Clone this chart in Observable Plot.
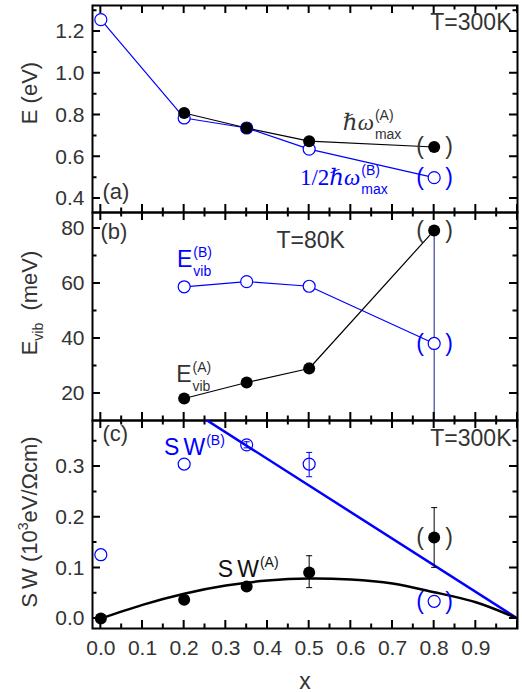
<!DOCTYPE html>
<html><head><meta charset="utf-8">
<script src="https://cdn.jsdelivr.net/npm/d3@7"></script>
<script src="https://cdn.jsdelivr.net/npm/@observablehq/plot@0.6"></script>
<style>
body{margin:0;background:#fff;}
#chart{position:relative;width:522px;height:692px;overflow:hidden;background:#fff;}
#chart svg{position:absolute;left:0;}
</style></head><body><div id="chart"></div>
<script>
// ---------- data ----------
const xs = [0, 0.2, 0.35, 0.5, 0.8];
const uncertain = [false, false, false, false, true];

// panel (a) E (eV), T=300K
const eA = [null, 0.81, 0.738, 0.675, 0.647];   // hbar omega_max (A)
const eB = [1.257, 0.786, 0.738, 0.637, 0.50];  // 1/2 hbar omega_max (B)

// panel (b) E_vib (meV), T=80K
const evA = [null, 18.2, 24.0, 29.1, 79.3];
const evAlo = [null, null, null, 28.0, 10.2];
const evAhi = [null, null, null, 31.0, 80.5];
const evB = [null, 58.8, 60.7, 59.0, 38.2];
const evBlo = [null, 57.3, null, null, null];
const evBhi = [null, 60.3, null, null, null];

// panel (c) SW (10^3 eV/Ohm cm), T=300K
const swA = [0.0, 0.037, 0.063, 0.091, 0.160];
const swAlo = [null, null, null, 0.061, 0.101];
const swAhi = [null, null, null, 0.124, 0.219];
const swB = [0.126, 0.305, 0.343, 0.305, 0.034];
const swBlo = [null, null, 0.337, 0.280, null];
const swBhi = [null, null, 0.349, 0.328, null];

// fitted curves in (c)
const fitAx = [0, 0.1, 0.2, 0.3, 0.4, 0.5, 0.6, 0.7, 0.8, 0.9, 1.0];
const fitAy = [0, 0.027, 0.049, 0.065, 0.075, 0.079, 0.077, 0.069, 0.052, 0.032, 0];
const fitBx = [0, 1.0];
const fitBy = [0.525, 0];

// ticks
const xMajor = [0, 0.1, 0.2, 0.3, 0.4, 0.5, 0.6, 0.7, 0.8, 0.9];
const xMinor = [0.05, 0.15, 0.25, 0.35, 0.45, 0.55, 0.65, 0.75, 0.85, 0.95];
const aMajor = [0.4, 0.6, 0.8, 1.0, 1.2], aMinor = [0.5, 0.7, 0.9, 1.1, 1.3];
const bMajor = [20, 40, 60, 80], bMinor = [30, 50, 70];
const cMajor = [0, 0.1, 0.2, 0.3], cMinor = [0.05, 0.15, 0.25, 0.35];

// ---------- helpers ----------
const FONT = "Liberation Sans, Arial, Helvetica, sans-serif";
const SERIF = "Liberation Serif, DejaVu Serif, Times New Roman, serif";
const TXT = "#333";
const BLUE = "#0000ff";
const X_DOMAIN = [-0.02, 1.0];
const ML = 92, MR = 5, W = 522, H = 692;
const rows = (ys, lo, hi) => xs.map((x, i) => ({x, y: ys[i], lo: lo ? lo[i] : null, hi: hi ? hi[i] : null, u: uncertain[i]}))
  .filter(d => d.y != null);
const capSymbol = {draw(ctx, size) { const w = Math.sqrt(size / Math.PI); ctx.moveTo(-w, 0); ctx.lineTo(w, 0); }};

function errMarks(data, color) {
  const e = data.filter(d => d.lo != null);
  return [
    Plot.ruleX(e, {x: "x", y1: "lo", y2: "hi", stroke: color, strokeWidth: 1, clip: true}),
    Plot.dot(e, {x: "x", y: "lo", symbol: capSymbol, r: 3, stroke: color, fill: "none", strokeWidth: 1, clip: true}),
    Plot.dot(e, {x: "x", y: "hi", symbol: capSymbol, r: 3, stroke: color, fill: "none", strokeWidth: 1, clip: true})
  ];
}
function parens(data, color) {
  const u = data.filter(d => d.u);
  return [
    Plot.text(u, {x: "x", y: "y", text: () => "(", dx: -14, fontSize: 23, fill: color}),
    Plot.text(u, {x: "x", y: "y", text: () => ")", dx: 15, fontSize: 23, fill: color})
  ];
}
function frameMarks(yMajor, yFormat) {
  return [
    Plot.frame({stroke: "#000", strokeWidth: 2}),
    Plot.axisY(yMajor, {anchor: "left", tickSize: 0, tickPadding: 8, tickFormat: yFormat, label: null, fill: TXT})
  ];
}
const container = document.getElementById("chart");
function panel({top, height, marginTop, marginBottom, yDomain, marks, xAxis}) {
  const p = Plot.plot({
    width: W, height, marginLeft: ML, marginRight: MR, marginTop, marginBottom,
    x: xAxis ? {domain: X_DOMAIN} : {domain: X_DOMAIN, axis: null}, y: {domain: yDomain},
    style: {fontFamily: FONT, fontSize: "21px", color: TXT, background: "transparent", overflow: "visible"},
    marks
  });
  p.style.top = top + "px";
  p.style.position = "absolute";
  container.append(p);
  p._top = top;
  return p;
}
function sc(plot, k) {
  const s = plot.scale(k);
  return s.apply ? (v) => s.apply(v) : d3.scaleLinear(s.domain, s.range);
}
// inward tick marks on all four sides of a panel, placed with that plot's own scales,
// drawn into one overlay svg on top of the stacked panels
const overlay = d3.create("svg").attr("width", W).attr("height", H)
  .style("position", "absolute").style("left", "0px").style("top", "0px").style("pointer-events", "none");
function ticks(plot, yDomain, yMajor, yMinor) {
  const T = plot._top;
  const x = sc(plot, "x"), ys = sc(plot, "y"), y = v => ys(v) + T;
  const X0 = x(X_DOMAIN[0]), X1 = x(X_DOMAIN[1]), Y0 = y(yDomain[0]), Y1 = y(yDomain[1]);
  let d = "";
  const seg = (x1, y1, x2, y2) => { d += `M${x1.toFixed(2)},${y1.toFixed(2)}L${x2.toFixed(2)},${y2.toFixed(2)}`; };
  xMajor.concat([1.0]).forEach(t => { seg(x(t), Y0, x(t), Y0 - 8); seg(x(t), Y1, x(t), Y1 + 8); });
  xMinor.forEach(t => { seg(x(t), Y0, x(t), Y0 - 4.5); seg(x(t), Y1, x(t), Y1 + 4.5); });
  yMajor.forEach(t => { seg(X0, y(t), X0 + 8, y(t)); seg(X1, y(t), X1 - 8, y(t)); });
  yMinor.forEach(t => { seg(X0, y(t), X0 + 4.5, y(t)); seg(X1, y(t), X1 - 4.5, y(t)); });
  overlay.append("path").attr("d", d).attr("fill", "none").attr("stroke", "#000").attr("stroke-width", 2);
}
// rich label: main text + stacked superscript / subscript, anchored in data coordinates
function rich(plot, {x, y, main, sup, sub, color, size = 23, family = FONT}) {
  const px = sc(plot, "x")(x), py = sc(plot, "y")(y);
  const t = d3.select(plot).append("text").attr("fill", color).attr("x", px).attr("y", py)
    .attr("text-anchor", "start").attr("font-family", family).attr("font-size", size);
  main.forEach(m => t.append("tspan").attr("font-style", m.italic ? "italic" : null)
    .attr("letter-spacing", m.spacing || null).text(m.t));
  const up = Math.round(size * 0.42), down = Math.round(size * 0.38);
  const s1 = t.append("tspan").attr("dx", 1).attr("dy", -up).attr("font-family", FONT).attr("font-size", 14).text(sup);
  if (sub) {
    const w = s1.node().getComputedTextLength();
    t.append("tspan").attr("dx", -w).attr("dy", up + down).attr("font-family", FONT).attr("font-size", 14).text(sub);
  }
}
function yTitle(plot, cy, build) {
  const t = d3.select(plot).append("text").attr("transform", `translate(37,${cy}) rotate(-90)`)
    .attr("text-anchor", "middle").attr("font-family", FONT).attr("font-size", 22).attr("fill", TXT);
  build(t);
}

// ---------- panel (a) ----------
const A = rows(eA), B = rows(eB);
const aDom = [0.333, 1.325];
const pa = panel({
  top: 0, height: 214, marginTop: 5, marginBottom: 2, yDomain: aDom,
  marks: [
    ...frameMarks(aMajor, d3.format(".1f")),
    Plot.line(B, {x: "x", y: "y", stroke: BLUE, strokeWidth: 1.2}),
    Plot.line(A, {x: "x", y: "y", stroke: "#000", strokeWidth: 1.2}),
    Plot.dot(B, {x: "x", y: "y", r: 6, stroke: BLUE, strokeWidth: 1.2, fill: "#fff"}),
    Plot.dot(A, {x: "x", y: "y", r: 6, fill: "#000"}),
    ...parens(A, TXT), ...parens(B, BLUE),
    Plot.text(["T=300K"], {text: d => d, frameAnchor: "top-right", dx: -6, dy: 8, lineAnchor: "top", fontSize: 23, fill: TXT}),
    Plot.text(["(a)"], {text: d => d, frameAnchor: "bottom-left", dx: 10, dy: -14, lineAnchor: "bottom", textAnchor: "start", fontSize: 22, fill: TXT})
  ]
});

// ---------- panel (b) ----------
const VA = rows(evA, evAlo, evAhi), VB = rows(evB, evBlo, evBhi);
const bDom = [10.2, 85.8];
const pb = panel({
  top: 210, height: 212, marginTop: 2, marginBottom: 2, yDomain: bDom,
  marks: [
    ...frameMarks(bMajor, d3.format("d")),
    Plot.line(VB, {x: "x", y: "y", stroke: BLUE, strokeWidth: 1.2}),
    Plot.line(VA, {x: "x", y: "y", stroke: "#000", strokeWidth: 1.2}),
    ...errMarks(VA, "#1a1a8a"), ...errMarks(VB, BLUE),
    Plot.dot(VB, {x: "x", y: "y", r: 6, stroke: BLUE, strokeWidth: 1.2, fill: "#fff"}),
    Plot.dot(VA, {x: "x", y: "y", r: 6, fill: "#000"}),
    ...parens(VA, TXT), ...parens(VB, BLUE),
    Plot.text(["T=80K"], {text: d => d, frameAnchor: "top-left", dx: 184, dy: 19, lineAnchor: "top", textAnchor: "start", fontSize: 23, fill: TXT}),
    Plot.text(["(b)"], {text: d => d, frameAnchor: "top-left", dx: 8, dy: 11, lineAnchor: "top", textAnchor: "start", fontSize: 22, fill: TXT})
  ]
});

// ---------- panel (c) ----------
const SA = rows(swA, swAlo, swAhi), SB = rows(swB, swBlo, swBhi);
const fitA = fitAx.map((x, i) => ({x, y: fitAy[i]}));
const fitB = fitBx.map((x, i) => ({x, y: fitBy[i]}));
const cDom = [-0.0197, 0.391];
const pc = panel({
  top: 418, height: 274, marginTop: 2, marginBottom: 64, yDomain: cDom, xAxis: true,
  marks: [
    ...frameMarks(cMajor, d3.format(".1f")),
    Plot.axisX(xMajor, {anchor: "bottom", tickSize: 0, tickPadding: 12, tickFormat: d3.format(".1f"), label: null, fill: TXT}),
    Plot.line(fitB, {x: "x", y: "y", stroke: BLUE, strokeWidth: 2.5, clip: true}),
    Plot.line(fitA, {x: "x", y: "y", stroke: "#000", strokeWidth: 2.5, curve: "natural", clip: true}),
    ...errMarks(SA, "#000"), ...errMarks(SB, BLUE),
    Plot.dot(SB, {x: "x", y: "y", r: 6, stroke: BLUE, strokeWidth: 1.2, fill: "none"}),
    Plot.dot(SA, {x: "x", y: "y", r: 6, fill: "#000"}),
    ...parens(SA, TXT), ...parens(SB, BLUE),
    Plot.text(["T=300K"], {text: d => d, frameAnchor: "top-right", dx: -6, dy: 9, lineAnchor: "top", fontSize: 23, fill: TXT}),
    Plot.text(["(c)"], {text: d => d, frameAnchor: "top-left", dx: 10, dy: 5, lineAnchor: "top", textAnchor: "start", fontSize: 22, fill: TXT}),
    Plot.text(["x"], {text: d => d, frameAnchor: "bottom", dy: 60, fontSize: 23, fill: TXT})
  ]
});

// ---------- ticks (overlay on top of all panels) ----------
ticks(pa, aDom, aMajor, aMinor);
ticks(pb, bDom, bMajor, bMinor);
ticks(pc, cDom, cMajor, cMinor);
container.append(overlay.node());

// ---------- rich annotations ----------
rich(pa, {x: 0.582, y: 0.726, main: [{t: "ℏω", italic: true}], family: SERIF, sup: "(A)", sub: "max", color: TXT});
rich(pa, {x: 0.479, y: 0.462, main: [{t: "1/2"}, {t: "ℏω", italic: true}], family: SERIF, sup: "(B)", sub: "max", color: BLUE});
rich(pb, {x: 0.184, y: 65.8, main: [{t: "E"}], sup: "(B)", sub: "vib", color: BLUE});
rich(pb, {x: 0.182, y: 24.0, main: [{t: "E"}], sup: "(A)", sub: "vib", color: TXT});
rich(pc, {x: 0.153, y: 0.322, main: [{t: "S", spacing: "4px"}, {t: "W"}], sup: "(B)", color: BLUE});
rich(pc, {x: 0.282, y: 0.081, main: [{t: "S", spacing: "4px"}, {t: "W"}], sup: "(A)", color: "#111"});

yTitle(pa, 93, t => t.text("E (eV)"));
yTitle(pb, 93, t => {
  t.append("tspan").text("E");
  t.append("tspan").attr("dy", 6).attr("font-size", 14).text("vib");
  t.append("tspan").attr("dy", -6).text("  (meV)");
});
yTitle(pc, 104, t => {
  t.append("tspan").attr("letter-spacing", "4px").text("S");
  t.append("tspan").text("W (10");
  t.append("tspan").attr("dy", -9).attr("font-size", 14).text("3");
  t.append("tspan").attr("dy", 9).text("eV/Ωcm)");
});
</script></body></html>
